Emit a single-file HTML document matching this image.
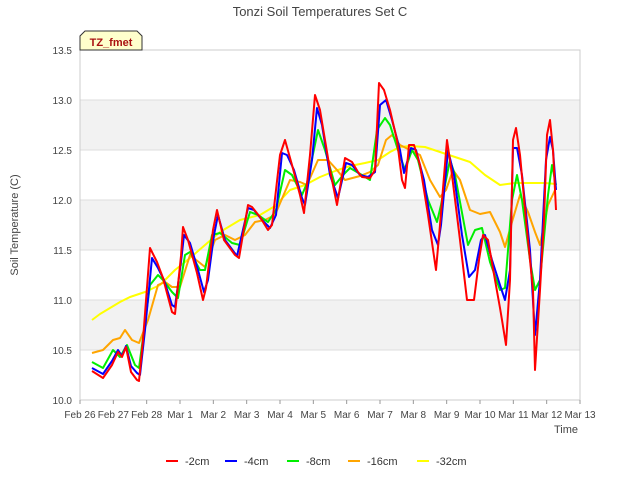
<!DOCTYPE html>
<html><head><meta charset="utf-8"><style>
body{margin:0;background:#fff;font-family:"Liberation Sans",sans-serif}
svg text{font-family:"Liberation Sans",sans-serif}
</style></head><body>
<svg id="chart" width="640" height="480">
<rect width="640" height="480" fill="#fff"/>
<text x="320" y="16" text-anchor="middle" font-size="13" fill="#444">Tonzi Soil Temperatures Set C</text>
<g id="plot"></g>
<text x="18" y="225" text-anchor="middle" font-size="11" fill="#444" transform="rotate(-90 18 225)">Soil Temperature (C)</text>
<text x="578" y="433" text-anchor="end" font-size="11" fill="#444">Time</text>
<g>
<path d="M80,50 L80,36 L85,31 L137,31 L142,36 L142,50 Z" fill="#ffffcc" stroke="#333"/>
<text x="111" y="46" text-anchor="middle" font-size="11" font-weight="bold" fill="#aa1111">TZ_fmet</text>
</g>
<g id="legend"></g>
</svg>
<script>
const tickVals=[10.0,10.5,11.0,11.5,12.0,12.5,13.0,13.5];
const tickLabels=["10.0","10.5","11.0","11.5","12.0","12.5","13.0","13.5"];
const dayLabels=["Feb 26","Feb 27","Feb 28","Mar 1","Mar 2","Mar 3","Mar 4","Mar 5","Mar 6","Mar 7","Mar 8","Mar 9","Mar 10","Mar 11","Mar 12","Mar 13"];
const seriesNames=["-2cm","-4cm","-8cm","-16cm","-32cm"];
const seriesColors=["#ff0000","#0000ff","#00ee00","#ffa500","#ffff00"];
const d2cm=[0.36,0.69,0.96,1.14,1.26,1.38,1.53,1.71,1.77,1.89,2.10,2.31,2.49,2.76,2.85,3.03,3.09,3.24,3.51,3.69,3.78,3.99,4.11,4.32,4.65,4.77,5.04,5.16,5.40,5.64,5.76,6.00,6.15,6.36,6.60,6.72,6.90,7.05,7.20,7.50,7.71,7.95,8.16,8.34,8.46,8.70,8.85,8.97,9.12,9.30,9.51,9.66,9.75,9.87,10.02,10.20,10.44,10.68,10.80,11.01,11.16,11.40,11.61,11.82,11.97,12.09,12.24,12.45,12.60,12.66,12.78,12.90,12.99,13.08,13.20,13.38,13.59,13.65,13.80,13.92,14.01,14.10,14.19,14.28];
const v2cm=[10.29,10.22,10.35,10.48,10.43,10.53,10.28,10.20,10.19,10.60,11.52,11.38,11.22,10.88,10.86,11.44,11.73,11.60,11.27,11.00,11.12,11.70,11.90,11.60,11.45,11.42,11.95,11.93,11.83,11.70,11.75,12.45,12.60,12.35,12.05,11.87,12.45,13.05,12.90,12.30,11.95,12.42,12.38,12.28,12.23,12.22,12.30,13.17,13.10,12.90,12.60,12.20,12.12,12.55,12.55,12.35,11.85,11.30,11.75,12.60,12.25,11.60,11.00,11.00,11.40,11.65,11.60,11.20,10.92,10.80,10.55,11.20,12.60,12.72,12.45,11.80,11.10,10.30,11.10,11.80,12.65,12.80,12.50,11.90];
const d4cm=[0.36,0.69,0.96,1.14,1.26,1.38,1.53,1.71,1.80,1.95,2.16,2.34,2.52,2.76,2.85,3.03,3.12,3.30,3.54,3.72,3.84,4.02,4.14,4.35,4.71,5.04,5.22,5.46,5.70,5.88,6.06,6.21,6.42,6.66,6.75,6.96,7.11,7.26,7.50,7.74,7.98,8.16,8.40,8.64,8.85,9.00,9.18,9.36,9.60,9.72,9.93,10.08,10.32,10.56,10.74,10.83,11.04,11.22,11.46,11.67,11.85,12.03,12.15,12.36,12.60,12.75,12.90,12.99,13.11,13.26,13.50,13.65,13.80,13.98,14.10,14.19,14.28];
const v4cm=[10.32,10.26,10.39,10.50,10.44,10.54,10.34,10.27,10.25,10.70,11.42,11.32,11.20,10.95,10.93,11.38,11.65,11.57,11.30,11.08,11.20,11.65,11.85,11.60,11.44,11.92,11.90,11.80,11.72,11.85,12.47,12.45,12.30,12.02,11.95,12.40,12.92,12.75,12.25,12.02,12.37,12.35,12.25,12.23,12.28,12.95,13.00,12.80,12.50,12.27,12.52,12.50,12.20,11.70,11.55,11.75,12.50,12.25,11.65,11.23,11.30,11.60,11.65,11.40,11.15,11.00,11.30,12.52,12.52,12.25,11.50,10.65,11.20,12.40,12.63,12.50,12.10];
const d8cm=[0.36,0.69,0.99,1.20,1.41,1.65,1.77,2.10,2.34,2.49,2.76,2.94,3.15,3.30,3.60,3.75,3.96,4.20,4.56,4.80,5.10,5.34,5.64,5.88,6.15,6.36,6.66,6.81,7.14,7.35,7.65,7.89,8.10,8.46,8.70,8.91,9.15,9.30,9.54,9.75,9.96,10.14,10.44,10.71,10.83,11.10,11.25,11.64,11.85,12.06,12.30,12.60,12.75,12.96,13.11,13.26,13.50,13.65,13.80,14.04,14.16,14.28];
const v8cm=[10.38,10.32,10.50,10.43,10.55,10.35,10.32,11.15,11.25,11.20,11.08,11.02,11.45,11.48,11.30,11.30,11.65,11.67,11.57,11.55,11.88,11.85,11.78,11.90,12.30,12.25,12.05,12.17,12.70,12.50,12.15,12.25,12.32,12.25,12.20,12.70,12.82,12.75,12.50,12.30,12.50,12.40,12.00,11.78,11.95,12.40,12.25,11.55,11.70,11.72,11.38,11.10,11.12,12.00,12.25,12.00,11.40,11.10,11.20,12.05,12.35,12.15];
const d16cm=[0.36,0.69,0.99,1.20,1.35,1.56,1.77,2.04,2.34,2.55,2.76,3.00,3.30,3.60,3.75,4.05,4.35,4.65,4.95,5.25,5.55,5.85,6.30,6.60,6.81,7.14,7.44,7.71,7.95,8.40,8.70,8.94,9.18,9.36,9.60,9.90,10.20,10.50,10.80,10.98,11.19,11.40,11.70,12.00,12.30,12.60,12.75,12.96,13.20,13.44,13.65,13.80,14.04,14.28];
const v16cm=[10.47,10.50,10.60,10.62,10.70,10.60,10.57,10.80,11.15,11.18,11.13,11.13,11.45,11.37,11.33,11.60,11.65,11.60,11.65,11.78,11.80,11.85,12.20,12.18,12.15,12.40,12.40,12.30,12.20,12.24,12.28,12.35,12.60,12.65,12.55,12.50,12.45,12.20,12.03,12.10,12.30,12.20,11.90,11.86,11.88,11.68,11.53,11.78,12.05,11.88,11.68,11.55,11.95,12.12];
const d32cm=[0.36,0.60,0.90,1.20,1.50,1.95,2.40,2.85,3.30,3.75,4.20,4.80,5.40,5.85,6.30,6.75,7.20,7.65,8.10,8.55,8.94,9.30,9.60,9.90,10.35,10.80,11.25,11.70,12.15,12.60,13.05,13.50,13.95,14.28];
const v32cm=[10.80,10.86,10.92,10.98,11.03,11.08,11.15,11.30,11.42,11.55,11.68,11.80,11.85,11.94,12.10,12.15,12.23,12.29,12.34,12.37,12.40,12.48,12.53,12.54,12.53,12.48,12.43,12.38,12.25,12.15,12.17,12.17,12.17,12.16];

const NS="http://www.w3.org/2000/svg";
const X0=80,X1=580,Y0=400,Y1=50,DMIN=0,DMAX=15,VMIN=10,VMAX=13.5;
function xs(d){return X0+(d-DMIN)/(DMAX-DMIN)*(X1-X0);}
function ys(v){return Y0-(v-VMIN)/(VMAX-VMIN)*(Y0-Y1);}
function mk(t,a,p){const e=document.createElementNS(NS,t);for(const k in a)e.setAttribute(k,a[k]);p.appendChild(e);return e;}
const plot=document.getElementById('plot');
for(let i=0;i<tickVals.length-1;i++){
  if(i%2===1){
    const b=mk('rect',{x:X0,y:ys(tickVals[i+1]),width:X1-X0,height:ys(tickVals[i])-ys(tickVals[i+1]),fill:'#f2f2f2'},plot);
    
    
  }
}
tickVals.forEach((v,i)=>{
  const l=mk('line',{x1:X0,x2:X1,y1:ys(v),y2:ys(v),stroke:'#dddddd','stroke-width':1},plot);
  
  
  const t=mk('text',{x:X0-8,y:ys(v)+4,'text-anchor':'end','font-size':10,fill:'#444'},plot);
  t.textContent=tickLabels[i];
  
  
});
const fr=mk('rect',{x:X0,y:Y1,width:X1-X0,height:Y0-Y1,fill:'none',stroke:'#cccccc'},plot);


dayLabels.forEach((lab,i)=>{
  const tk=mk('line',{x1:xs(i),x2:xs(i),y1:Y0,y2:Y0+4,stroke:'#999'},plot);
  
  
  const t=mk('text',{x:xs(i),y:Y0+18,'text-anchor':'middle','font-size':10,fill:'#444'},plot);
  t.textContent=lab;
  
  
});
const allD=[d2cm,d4cm,d8cm,d16cm,d32cm],allV=[v2cm,v4cm,v8cm,v16cm,v32cm];
for(let s=4;s>=0;s--){
  const pts=allD[s].map((d,i)=>xs(d).toFixed(1)+','+ys(allV[s][i]).toFixed(1)).join(' ');
  const pl=mk('polyline',{points:pts,fill:'none',stroke:seriesColors[s],'stroke-width':2,'stroke-linejoin':'round'},plot);
   
  
}
const lg=document.getElementById('legend');
const lx=[166,225,287,348,417];
seriesNames.forEach((n,i)=>{
  const g=mk('g',{},lg);
  
  
  mk('line',{x1:lx[i],x2:lx[i]+12,y1:461,y2:461,stroke:seriesColors[i],'stroke-width':2},g);
  const t=mk('text',{x:lx[i]+19,y:465,'font-size':11,fill:'#333'},g);
  t.textContent=n;
});
</script>
</body></html>
